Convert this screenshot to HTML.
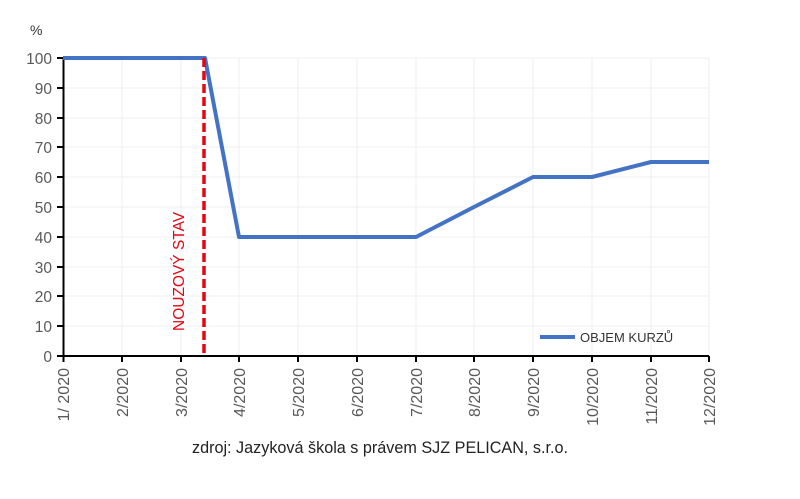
<!DOCTYPE html>
<html><head><meta charset="utf-8"><style>
html,body{margin:0;padding:0;background:#fff;}
svg{display:block;font-family:"Liberation Sans",sans-serif;}
</style></head><body>
<svg width="800" height="499" viewBox="0 0 800 499" xmlns="http://www.w3.org/2000/svg">
<g stroke="#efefef" stroke-width="1">
<line x1="63" y1="58" x2="709" y2="58"/><line x1="63" y1="88" x2="709" y2="88"/><line x1="63" y1="118" x2="709" y2="118"/><line x1="63" y1="147" x2="709" y2="147"/><line x1="63" y1="177" x2="709" y2="177"/><line x1="63" y1="207" x2="709" y2="207"/><line x1="63" y1="237" x2="709" y2="237"/><line x1="63" y1="267" x2="709" y2="267"/><line x1="63" y1="296" x2="709" y2="296"/><line x1="63" y1="326" x2="709" y2="326"/>
<line x1="122" y1="58" x2="122" y2="356"/><line x1="181" y1="58" x2="181" y2="356"/><line x1="239" y1="58" x2="239" y2="356"/><line x1="298" y1="58" x2="298" y2="356"/><line x1="357" y1="58" x2="357" y2="356"/><line x1="416" y1="58" x2="416" y2="356"/><line x1="474" y1="58" x2="474" y2="356"/><line x1="533" y1="58" x2="533" y2="356"/><line x1="592" y1="58" x2="592" y2="356"/><line x1="651" y1="58" x2="651" y2="356"/><line x1="709" y1="58" x2="709" y2="356"/>
</g>
<g stroke="#000" stroke-width="2">
<line x1="63.5" y1="57" x2="63.5" y2="357"/><line x1="57" y1="356" x2="709" y2="356"/>
<line x1="57" y1="58" x2="63" y2="58"/><line x1="57" y1="88" x2="63" y2="88"/><line x1="57" y1="118" x2="63" y2="118"/><line x1="57" y1="147" x2="63" y2="147"/><line x1="57" y1="177" x2="63" y2="177"/><line x1="57" y1="207" x2="63" y2="207"/><line x1="57" y1="237" x2="63" y2="237"/><line x1="57" y1="267" x2="63" y2="267"/><line x1="57" y1="296" x2="63" y2="296"/><line x1="57" y1="326" x2="63" y2="326"/>
<line x1="63.5" y1="356" x2="63.5" y2="362"/><line x1="122" y1="356" x2="122" y2="362"/><line x1="181" y1="356" x2="181" y2="362"/><line x1="239" y1="356" x2="239" y2="362"/><line x1="298" y1="356" x2="298" y2="362"/><line x1="357" y1="356" x2="357" y2="362"/><line x1="416" y1="356" x2="416" y2="362"/><line x1="474" y1="356" x2="474" y2="362"/><line x1="533" y1="356" x2="533" y2="362"/><line x1="592" y1="356" x2="592" y2="362"/><line x1="651" y1="356" x2="651" y2="362"/><line x1="709" y1="356" x2="709" y2="362"/>
</g>
<g fill="#595959" font-size="15.5" text-anchor="end">
<text x="52" y="64">100</text><text x="52" y="94">90</text><text x="52" y="124">80</text><text x="52" y="153">70</text><text x="52" y="183">60</text><text x="52" y="213">50</text><text x="52" y="243">40</text><text x="52" y="273">30</text><text x="52" y="302">20</text><text x="52" y="332">10</text><text x="52" y="362">0</text>
</g>
<text x="30" y="35" fill="#333" font-size="14">%</text>
<g fill="#595959" font-size="16" text-anchor="end">
<text transform="translate(69,368) rotate(-90)">1/ 2020</text>
<text transform="translate(128,368) rotate(-90)">2/2020</text>
<text transform="translate(187,368) rotate(-90)">3/2020</text>
<text transform="translate(245,368) rotate(-90)">4/2020</text>
<text transform="translate(304,368) rotate(-90)">5/2020</text>
<text transform="translate(363,368) rotate(-90)">6/2020</text>
<text transform="translate(422,368) rotate(-90)">7/2020</text>
<text transform="translate(480,368) rotate(-90)">8/2020</text>
<text transform="translate(539,368) rotate(-90)">9/2020</text>
<text transform="translate(598,368) rotate(-90)">10/2020</text>
<text transform="translate(657,368) rotate(-90)">11/2020</text>
<text transform="translate(715,368) rotate(-90)">12/2020</text>
</g>
<polyline fill="none" stroke="#4472c4" stroke-width="4" stroke-linejoin="round" points="63,58 205,58 239,237 416,237 474,207 533,177 592,177 651,162 709,162"/>
<line x1="204" y1="58" x2="204" y2="356" stroke="#e30613" stroke-width="3.5" stroke-dasharray="9,4"/>
<text transform="translate(184,331) rotate(-90)" fill="#e30613" font-size="15.5">NOUZOVÝ STAV</text>
<line x1="540" y1="337" x2="575" y2="337" stroke="#4472c4" stroke-width="4"/>
<text x="580" y="342" fill="#333" font-size="13">OBJEM KURZŮ</text>
<text x="380" y="453" fill="#222" font-size="16.2" text-anchor="middle">zdroj: Jazyková škola s právem SJZ PELICAN, s.r.o.</text>
</svg>
</body></html>
